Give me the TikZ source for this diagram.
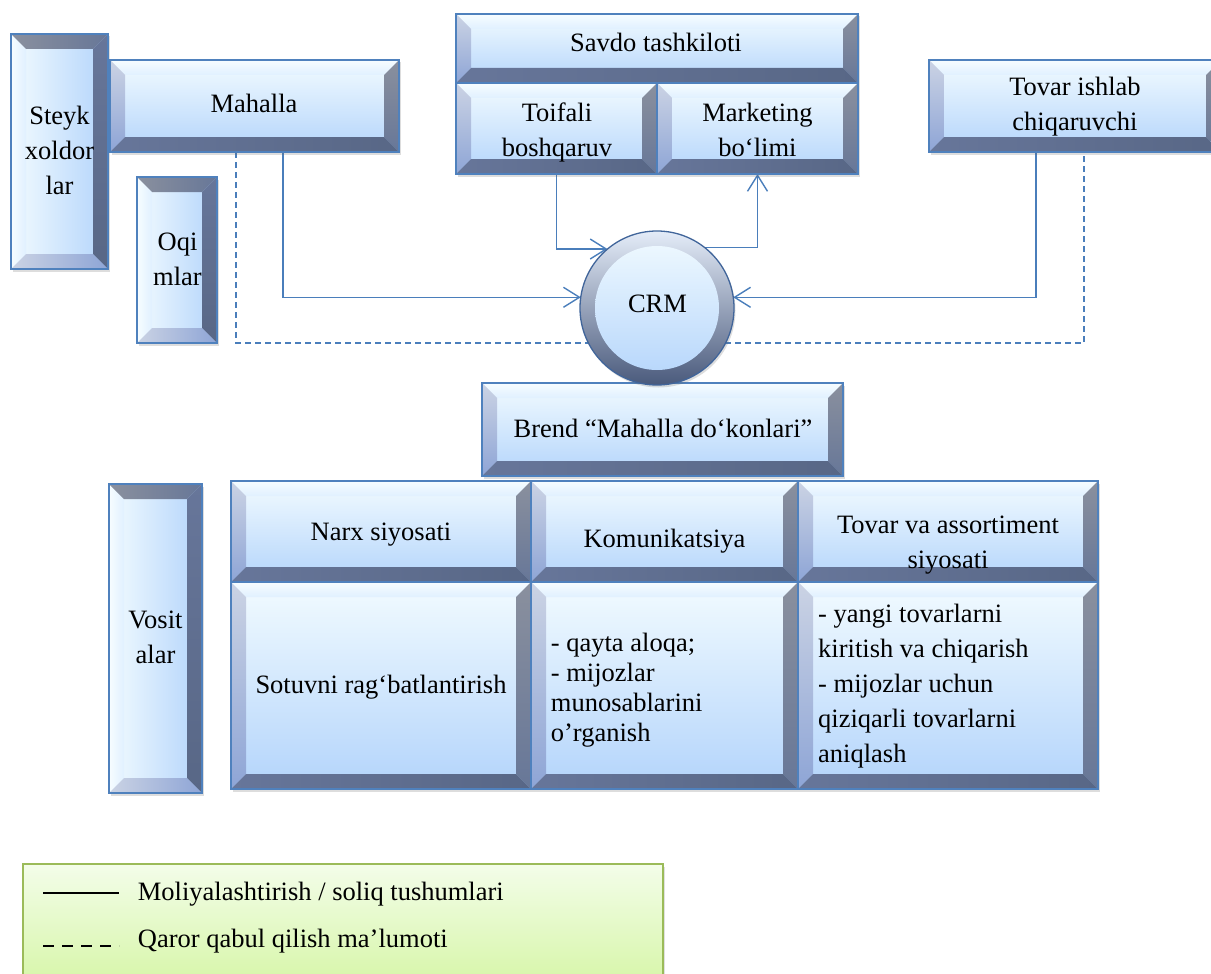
\documentclass[tikz,border=0pt]{standalone}
\usepackage{fontspec}
\setmainfont{Liberation Serif}
\usetikzlibrary{calc,arrows.meta,shadows,backgrounds}
\definecolor{bordc}{HTML}{4F81BD}
\definecolor{linec}{HTML}{4A7EBB}
\definecolor{faceT}{HTML}{F2FBFF}
\definecolor{faceB}{HTML}{B3D4FB}
\definecolor{lightA}{HTML}{F7FDFF}
\definecolor{lightB}{HTML}{E0F0FF}
\definecolor{midA}{HTML}{CBD3E4}
\definecolor{midB}{HTML}{8EA5D6}
\definecolor{grayA}{HTML}{8A909E}
\definecolor{grayB}{HTML}{677798}
\definecolor{darkA}{HTML}{67769A}
\definecolor{darkB}{HTML}{586786}
\definecolor{ringT}{HTML}{E4ECF8}
\definecolor{ringB}{HTML}{4A5A7C}
\definecolor{crmB}{HTML}{41659A}
\definecolor{legT}{HTML}{F3FDE9}
\definecolor{legB}{HTML}{D3F5A0}
\definecolor{legD}{HTML}{9BBB59}
\newcommand{\fz}{\fontsize{26.5pt}{35pt}\selectfont}
\newcommand{\fy}{\fontsize{26.5pt}{30pt}\selectfont}
\tikzset{
  corners/.style={
    \path (path picture bounding box.north west) coordinate (pA)
          (path picture bounding box.north east) coordinate (pB)
          (path picture bounding box.south east) coordinate (pC)
          (path picture bounding box.south west) coordinate (pD);
  },
  boxbase/.style={draw=bordc, line width=1.2pt, inner sep=0pt, outer sep=0pt,
    drop shadow={shadow xshift=1.5pt, shadow yshift=-2.5pt, opacity=0.22, fill=black!60}},
  hbev/.style={boxbase, top color=faceT, bottom color=faceB,
    path picture={
      \path (path picture bounding box.north west) coordinate (pA)
            (path picture bounding box.north east) coordinate (pB)
            (path picture bounding box.south east) coordinate (pC)
            (path picture bounding box.south west) coordinate (pD);
      \path ($(pA)+(15pt,-15pt)$) coordinate (qA) ($(pB)+(-15pt,-15pt)$) coordinate (qB)
            ($(pC)+(-15pt,15pt)$) coordinate (qC) ($(pD)+(15pt,15pt)$) coordinate (qD);
      \shade[top color=lightA, bottom color=lightB] (pA)--(pB)--(qB)--(qA)--cycle;
      \shade[top color=midA, bottom color=midB] (pA)--(qA)--(qD)--(pD)--cycle;
      \shade[top color=grayA, bottom color=grayB] (pB)--(pC)--(qC)--(qB)--cycle;
      \shade[left color=darkA, right color=darkB] (pD)--(qD)--(qC)--(pC)--cycle;
    }},
  vbev/.style={boxbase, left color=faceT, right color=faceB,
    path picture={
      \path (path picture bounding box.north west) coordinate (pA)
            (path picture bounding box.north east) coordinate (pB)
            (path picture bounding box.south east) coordinate (pC)
            (path picture bounding box.south west) coordinate (pD);
      \path ($(pA)+(15pt,-15pt)$) coordinate (qA) ($(pB)+(-15pt,-15pt)$) coordinate (qB)
            ($(pC)+(-15pt,15pt)$) coordinate (qC) ($(pD)+(15pt,15pt)$) coordinate (qD);
      \shade[left color=lightA, right color=lightB] (pA)--(qA)--(qD)--(pD)--cycle;
      \shade[left color=grayA, right color=grayB] (pA)--(pB)--(qB)--(qA)--cycle;
      \shade[top color=darkA, bottom color=darkB] (pB)--(pC)--(qC)--(qB)--cycle;
      \shade[left color=midA, right color=midB] (pD)--(qD)--(qC)--(pC)--cycle;
    }},
  crmstyle/.style={circle, minimum size=154pt, draw=crmB, line width=1.3pt, inner sep=0pt, outer sep=0pt,
    top color=ringT, bottom color=ringB,
    drop shadow={shadow xshift=1.5pt, shadow yshift=-2.5pt, opacity=0.22, fill=black!60},
    path picture={\shade[top color=faceT, bottom color=faceB] (path picture bounding box.center) circle (62pt);}},
  txt/.style={font=\fz, inner sep=0pt, align=center, text=black},
  ltxt/.style={font=\fz, inner sep=0pt, align=left, anchor=west, text=black},
  conn/.style={draw=linec, line width=1.4pt},
  tip/.style={-{Straight Barb[length=16pt,width=20pt]}}
}
\begin{document}
\begin{tikzpicture}[x=1pt,y=-1pt]
\useasboundingbox (0,0) rectangle (1211,974);
\clip (0,0) rectangle (1211,974);
% boxes
\node[vbev, minimum width=97pt, minimum height=235pt] (steyk) at (59.5,151.5) {};
\node[hbev, minimum width=289pt, minimum height=92pt] (mahalla) at (254.5,106) {};
\node[vbev, minimum width=80pt, minimum height=166pt] (oqim) at (177,260) {};
\node[hbev, minimum width=402pt, minimum height=69pt] (savdo) at (657,48.5) {};
\node[hbev, minimum width=201pt, minimum height=91pt] (toif) at (556.5,128.5) {};
\node[hbev, minimum width=201pt, minimum height=91pt] (mark) at (757.5,128.5) {};
\node[hbev, minimum width=292pt, minimum height=92pt] (tovar) at (1075,106) {};
\node[hbev, minimum width=361pt, minimum height=93pt] (brend) at (662.5,429.5) {};
\node[vbev, minimum width=93pt, minimum height=309pt] (vos) at (155.5,638.5) {};
\node[hbev, minimum width=300pt, minimum height=101pt] (narx) at (381,531.5) {};
\node[hbev, minimum width=267pt, minimum height=101pt] (kom) at (664.5,531.5) {};
\node[hbev, minimum width=300pt, minimum height=101pt] (tas) at (948,531.5) {};
\node[hbev, minimum width=300pt, minimum height=207pt] (sot) at (381,685.5) {};
\node[hbev, minimum width=267pt, minimum height=207pt] (koml) at (664.5,685.5) {};
\node[hbev, minimum width=300pt, minimum height=207pt] (tasl) at (948,685.5) {};
\node[crmstyle] (crm) at (657,308) {};
% texts
\node[txt] (steykT) at (59.5,152.5) {\strut Steyk\\\strut xoldor\\\strut lar};
\node[txt] (mahallaT) at (254,106) {\strut Mahalla};
\node[txt] (oqimT) at (177.5,260.5) {\strut Oqi\\\strut mlar};
\node[txt] (savdoT) at (656,44.7) {\strut Savdo tashkiloti};
\node[txt] (toifT) at (557,132) {\strut Toifali\\\strut boshqaruv};
\node[txt] (markT) at (757.5,132) {\strut Marketing\\\strut bo‘limi};
\node[txt] (tovarT) at (1075,105.5) {\strut Tovar ishlab\\\strut chiqaruvchi};
\node[txt] (crmT) at (657.5,305) {\strut CRM};
\node[txt] (brendT) at (663,430) {\strut Brend “Mahalla do‘konlari”};
\node[txt] (narxT) at (381,533) {\strut Narx siyosati};
\node[txt] (komT) at (664.5,540) {\strut Komunikatsiya};
\node[txt] (tasT) at (948,543.5) {\strut Tovar va assortiment\\\strut siyosati};
\node[txt] (sotT) at (381,686) {\strut Sotuvni rag‘batlantirish};
\node[ltxt, font=\fy] (komlT) at (550.7,690) {\strut - qayta aloqa;\\\strut - mijozlar\\\strut munosablarini\\\strut o’rganish};
\node[ltxt] (taslT) at (818,685.5) {\strut - yangi tovarlarni\\\strut kiritish va chiqarish\\\strut - mijozlar uchun\\\strut qiziqarli tovarlarni\\\strut aniqlash};
\node[txt] (vosT) at (155.5,638.5) {\strut Vosit\\\strut alar};
% connectors
\begin{scope}[on background layer]
\coordinate (dcorner) at (600,343);
\draw[conn, dash pattern=on 6pt off 4pt] ([xshift=-18.5pt]mahalla.south) |- (dcorner) -| ([xshift=9pt]tovar.south);
\draw[conn, tip] ([xshift=28.5pt]mahalla.south) |- (crm.172);
\draw[conn, tip] ([xshift=-39pt]tovar.south) |- (crm.8);
\draw[conn, tip] (toif.south) |- (crm.130);
\draw[conn, tip] (crm.52) -| (mark.south);
\end{scope}
% legend
\node[draw=legD, line width=1.3pt, top color=legT, bottom color=legB, inner sep=0pt,
  minimum width=640pt, minimum height=136pt,
  drop shadow={shadow xshift=1.5pt, shadow yshift=-2.5pt, opacity=0.2, fill=black!60}] (legend) at (343,932) {};
\coordinate (ls1) at (43,893);
\coordinate (le1) at (119,893);
\coordinate (ls2) at (43,946);
\coordinate (le2) at (119,946);
\draw[black, line width=1.5pt] (ls1) -- (le1);
\draw[black, line width=2pt, dash pattern=on 11pt off 8pt] (ls2) -- (le2);
\node[font=\fz, inner sep=0pt, anchor=base west] (leg1) at (137.7,900) {Moliyalashtirish / soliq tushumlari};
\node[font=\fz, inner sep=0pt, anchor=base west] (leg2) at (137.7,947) {Qaror qabul qilish ma’lumoti};
\end{tikzpicture}
\end{document}
